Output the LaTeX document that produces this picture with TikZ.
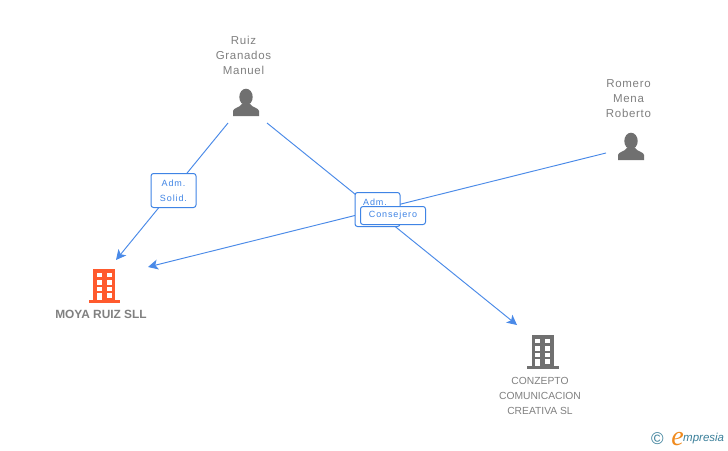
\documentclass[tikz,border=0pt]{standalone}
\usepackage{fontspec}
\setmainfont{Liberation Sans}
\newfontfamily\spaced[LetterSpace=6]{Liberation Sans}
\newfontfamily\lblfont[LetterSpace=10]{Liberation Sans}
\newfontfamily\logofont{Liberation Serif}
\usetikzlibrary{arrows.meta}
\definecolor{linkblue}{HTML}{4A8AE8}
\definecolor{lblblue}{HTML}{3F84E5}
\definecolor{txtgray}{HTML}{808080}
\definecolor{icongray}{HTML}{707070}
\definecolor{orangeb}{HTML}{FF5A2D}
\definecolor{logoteal}{HTML}{3A7F9A}
\definecolor{logoorange}{HTML}{F08A1D}
\tikzset{
  x=1pt,y=-1pt,
  link/.style={draw=linkblue,line width=0.95pt,-{Stealth[length=10pt,width=10pt,inset=2.5pt]}},
  rolebox/.style={draw=lblblue,line width=1pt,rounded corners=2.5pt,fill=white,inner sep=0pt,align=center,text=lblblue,font=\lblfont\fontsize{9pt}{15pt}\selectfont},
  roletext/.style={inner sep=0pt,text=lblblue,font=\lblfont\fontsize{9pt}{15pt}\selectfont},
  persontext/.style={text=txtgray,align=center,inner sep=0pt,font=\spaced\fontsize{11.5pt}{15pt}\selectfont},
  cotext/.style={text=txtgray,align=center,inner sep=0pt,font=\fontsize{10.3pt}{15pt}\selectfont},
  pics/personicon/.style={code={
    \fill[icongray] (0,-8) ellipse (6.7 and 8.3);
    \fill[icongray] (-13,11) -- (-13,6) .. controls (-13,3) and (-6,2.5) .. (-4,-1) -- (4,-1) .. controls (6,2.5) and (13,3) .. (13,6) -- (13,11) -- cycle;
  }},
  pics/buildingicon/.style={code={
    \fill[#1] (93,269) rectangle (115,300);
    \fill[#1] (88.5,300) rectangle (120,303);
    \foreach \yy in {273,280.2,286.9} {
      \fill[white] (96.5,\yy) rectangle (101.5,\yy+4.4);
      \fill[white] (106.5,\yy) rectangle (111.5,\yy+4.4);
    }
    \fill[white] (106.5,293.3) rectangle (111.5,297.7);
    \fill[white] (96.5,292.7) rectangle (101.5,300);
  }},
}
\begin{document}
\begin{tikzpicture}
\useasboundingbox[fill=white] (0,0) rectangle (728,450);
% connector end points
\coordinate (ruizA) at (228,123);
\coordinate (ruizB) at (267,123);
\coordinate (romeroEnd) at (606,153);
\coordinate (moyaA) at (116,260);
\coordinate (moyaB) at (148,267);
\coordinate (conzepto) at (517,325);
% connectors
\draw[link] (ruizA) -- (moyaA);
\draw[link] (ruizB) -- (conzepto);
\draw[link] (romeroEnd) -- (moyaB);
% labels
\node[rolebox,minimum width=45pt,minimum height=34pt] (solid) at (173.5,190.5) {Adm.\\Solid.};
\node[rolebox,minimum width=45pt,minimum height=34pt] (admbox) at (377.5,209.5) {};
\node[roletext] (adm) at (375,202) {Adm.};
\node[rolebox,minimum width=65pt,minimum height=18pt] (consejero) at (393,215.5) {Consejero};
% persons
\pic at (246,105) {personicon};
\pic at (631,149) {personicon};
\node[persontext] (ruiz) at (243.5,55) {Ruiz\\Granados\\Manuel};
\node[persontext] (romero) at (628.5,98.5) {Romero\\Mena\\Roberto};
% companies
\pic at (0,0) {buildingicon=orangeb};
\pic at (438.5,66) {buildingicon=icongray};
\node[text=txtgray,inner sep=0pt,font=\bfseries\fontsize{11.9pt}{13pt}\selectfont] (moya) at (101,314) {MOYA RUIZ SLL};
\node[cotext] (conz) at (540,396) {CONZEPTO\\COMUNICACION\\CREATIVA SL};
% logo
\node[inner sep=0pt,text=logoteal,font=\fontsize{17pt}{17pt}\selectfont] (copy) at (657.5,438.5) {©};
\node[inner sep=0pt,text=logoorange,font=\logofont\itshape\fontsize{28pt}{28pt}\selectfont] (logoe) at (677.5,439) {e};
\node[inner sep=0pt,text=logoteal,anchor=west,font=\itshape\fontsize{11.5pt}{12pt}\selectfont] (logot) at (683,439) {mpresia};
\end{tikzpicture}
\end{document}
